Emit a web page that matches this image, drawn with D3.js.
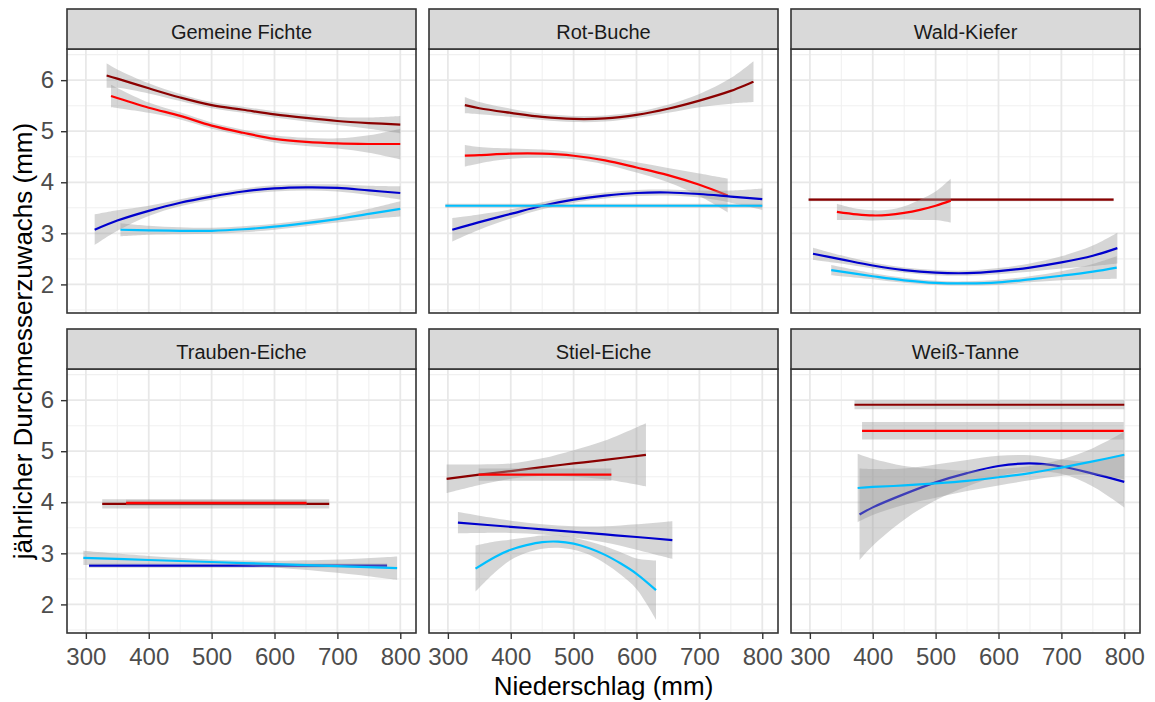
<!DOCTYPE html>
<html>
<head>
<meta charset="utf-8">
<script src="https://cdn.jsdelivr.net/npm/d3@7"></script>
<style>
    body { margin: 0; background: #fff; }
    svg { display: block; font-family: "Liberation Sans", Arial, sans-serif; }
</style>
</head>
<body>
<div id="chart"></div>
<script>
(function () {
    "use strict";

    const species = ["Gemeine Fichte", "Rot-Buche", "Wald-Kiefer", "Trauben-Eiche", "Stiel-Eiche", "Weiß-Tanne"];
    const groupColors = ["#8b0000", "#ff0000", "#0000cd", "#00bfff"];
    const xTicks = [300, 400, 500, 600, 700, 800];
    const xMinor = [350, 450, 550, 650, 750];
    const yTicks = [2, 3, 4, 5, 6];
    const yMinor = [1.5, 2.5, 3.5, 4.5, 5.5, 6.5];

    // rows: [Niederschlag, fit, lower, upper]
    const fichteDarkred = [[333, 6.09, 5.85, 6.33], [350, 6.03, 5.85, 6.21], [400, 5.84, 5.74, 5.94], [450, 5.66, 5.59, 5.73], [500, 5.51, 5.45, 5.57], [550, 5.42, 5.36, 5.48], [600, 5.33, 5.27, 5.39], [650, 5.26, 5.19, 5.33], [700, 5.2, 5.12, 5.28], [750, 5.16, 5.05, 5.27], [800, 5.13, 4.96, 5.3]];
    const fichteRed = [[340, 5.69, 5.47, 5.91], [400, 5.46, 5.36, 5.56], [450, 5.3, 5.23, 5.37], [500, 5.11, 5.05, 5.17], [550, 4.97, 4.91, 5.03], [600, 4.85, 4.78, 4.92], [650, 4.79, 4.71, 4.87], [700, 4.76, 4.66, 4.86], [750, 4.75, 4.58, 4.92], [800, 4.75, 4.45, 5.05]];
    const fichteBlue = [[314, 3.07, 2.77, 3.37], [350, 3.25, 3.05, 3.45], [400, 3.44, 3.34, 3.54], [450, 3.6, 3.53, 3.67], [500, 3.72, 3.66, 3.78], [550, 3.82, 3.76, 3.88], [600, 3.88, 3.82, 3.94], [650, 3.9, 3.84, 3.96], [700, 3.89, 3.82, 3.96], [750, 3.84, 3.75, 3.93], [800, 3.79, 3.66, 3.92]];
    const fichteLightblue = [[355, 3.07, 2.94, 3.2], [400, 3.06, 2.97, 3.15], [450, 3.05, 2.98, 3.12], [500, 3.05, 2.99, 3.11], [550, 3.08, 3.02, 3.14], [600, 3.13, 3.07, 3.19], [650, 3.2, 3.14, 3.26], [700, 3.28, 3.21, 3.35], [750, 3.38, 3.28, 3.48], [800, 3.48, 3.33, 3.63]];

    const bucheDarkred = [[327, 5.51, 5.35, 5.67], [350, 5.45, 5.33, 5.57], [400, 5.36, 5.28, 5.44], [450, 5.28, 5.22, 5.34], [500, 5.24, 5.18, 5.3], [550, 5.25, 5.19, 5.31], [600, 5.32, 5.26, 5.38], [650, 5.44, 5.36, 5.52], [700, 5.6, 5.47, 5.73], [750, 5.79, 5.54, 6.04], [786, 5.97, 5.57, 6.37]];
    const bucheRed = [[327, 4.52, 4.31, 4.73], [350, 4.53, 4.37, 4.69], [400, 4.56, 4.46, 4.66], [450, 4.56, 4.48, 4.64], [500, 4.52, 4.45, 4.59], [550, 4.43, 4.35, 4.51], [600, 4.29, 4.19, 4.39], [650, 4.14, 4.0, 4.28], [700, 3.95, 3.73, 4.17], [745, 3.74, 3.41, 4.07]];
    const bucheBlue = [[307, 3.07, 2.84, 3.3], [350, 3.22, 3.07, 3.37], [400, 3.38, 3.29, 3.47], [450, 3.54, 3.47, 3.61], [500, 3.66, 3.6, 3.72], [550, 3.74, 3.68, 3.8], [600, 3.79, 3.73, 3.85], [650, 3.8, 3.74, 3.86], [700, 3.77, 3.7, 3.84], [750, 3.72, 3.6, 3.84], [800, 3.67, 3.46, 3.88]];
    const bucheLightblue = [[296, 3.54, 3.5, 3.58], [800, 3.54, 3.5, 3.58]];

    const kieferDarkred = [[298, 3.66, 3.63, 3.69], [783, 3.66, 3.63, 3.69]];
    const kieferRed = [[343, 3.42, 3.26, 3.58], [375, 3.37, 3.26, 3.48], [400, 3.35, 3.25, 3.45], [425, 3.36, 3.26, 3.46], [450, 3.4, 3.27, 3.53], [475, 3.46, 3.26, 3.66], [500, 3.54, 3.26, 3.82], [524, 3.64, 3.21, 4.07]];
    const kieferBlue = [[305, 2.6, 2.48, 2.72], [350, 2.49, 2.41, 2.57], [400, 2.37, 2.31, 2.43], [450, 2.28, 2.23, 2.33], [500, 2.23, 2.18, 2.28], [550, 2.22, 2.17, 2.27], [600, 2.26, 2.2, 2.32], [650, 2.33, 2.25, 2.41], [700, 2.43, 2.31, 2.55], [750, 2.56, 2.36, 2.76], [789, 2.71, 2.41, 3.01]];
    const kieferLightblue = [[334, 2.28, 2.18, 2.38], [400, 2.16, 2.1, 2.22], [450, 2.08, 2.03, 2.13], [500, 2.03, 1.99, 2.07], [550, 2.02, 1.98, 2.06], [600, 2.04, 1.99, 2.09], [650, 2.1, 2.04, 2.16], [700, 2.17, 2.08, 2.26], [750, 2.25, 2.1, 2.4], [788, 2.33, 2.11, 2.55]];

    const traubenDarkred = [[326, 3.97, 3.88, 4.06], [687, 3.97, 3.88, 4.06]];
    const traubenRed = [[364, 3.99, 3.93, 4.05], [651, 3.99, 3.93, 4.05]];
    const traubenBlue = [[305, 2.76, 2.72, 2.8], [779, 2.76, 2.72, 2.8]];
    const traubenLightblue = [[296, 2.91, 2.77, 3.05], [400, 2.87, 2.79, 2.95], [550, 2.81, 2.76, 2.86], [700, 2.75, 2.62, 2.88], [795, 2.71, 2.48, 2.94]];

    const stielDarkred = [[298, 4.46, 4.18, 4.74], [350, 4.54, 4.34, 4.74], [400, 4.61, 4.46, 4.76], [450, 4.69, 4.52, 4.86], [500, 4.76, 4.5, 5.02], [550, 4.83, 4.45, 5.21], [615, 4.93, 4.31, 5.55]];
    const stielRed = [[349, 4.54, 4.42, 4.66], [560, 4.54, 4.42, 4.66]];
    const stielBlue = [[316, 3.6, 3.39, 3.81], [400, 3.52, 3.4, 3.64], [450, 3.47, 3.37, 3.57], [500, 3.42, 3.31, 3.53], [550, 3.37, 3.21, 3.53], [600, 3.32, 3.07, 3.57], [657, 3.26, 2.89, 3.63]];
    const stielLightblue = [[344, 2.7, 2.25, 3.15], [375, 2.93, 2.63, 3.23], [400, 3.07, 2.87, 3.27], [425, 3.16, 3.01, 3.31], [450, 3.22, 3.09, 3.35], [475, 3.23, 3.11, 3.35], [500, 3.19, 3.07, 3.31], [525, 3.1, 2.97, 3.23], [550, 2.97, 2.8, 3.14], [575, 2.8, 2.58, 3.02], [600, 2.6, 2.3, 2.9], [631, 2.28, 1.7, 2.86]];

    const tanneDarkred = [[371, 5.91, 5.82, 6.0], [800, 5.91, 5.82, 6.0]];
    const tanneRed = [[383, 5.4, 5.23, 5.57], [799, 5.4, 5.23, 5.57]];
    const tanneBlue = [[379, 3.76, 2.87, 4.66], [400, 3.9, 3.15, 4.65], [450, 4.16, 3.66, 4.66], [500, 4.39, 4.04, 4.74], [550, 4.57, 4.31, 4.83], [600, 4.71, 4.51, 4.91], [650, 4.76, 4.6, 4.92], [700, 4.7, 4.56, 4.84], [750, 4.56, 4.31, 4.81], [800, 4.4, 3.9, 4.95]];
    const tanneLightblue = [[376, 4.28, 3.61, 4.95], [400, 4.3, 3.75, 4.85], [450, 4.33, 3.95, 4.71], [500, 4.37, 4.09, 4.65], [550, 4.42, 4.22, 4.62], [600, 4.49, 4.33, 4.65], [650, 4.57, 4.43, 4.71], [700, 4.68, 4.52, 4.84], [750, 4.8, 4.54, 5.06], [800, 4.93, 4.45, 5.38]];

    const panelSeries = [
        [fichteDarkred, fichteRed, fichteBlue, fichteLightblue],
        [bucheDarkred, bucheRed, bucheBlue, bucheLightblue],
        [kieferDarkred, kieferRed, kieferBlue, kieferLightblue],
        [traubenDarkred, traubenRed, traubenBlue, traubenLightblue],
        [stielDarkred, stielRed, stielBlue, stielLightblue],
        [tanneDarkred, tanneRed, tanneBlue, tanneLightblue]
    ];

    const width = 1155;
    const height = 702;
    const panelLeft = 67;
    const panelWidth = 349;
    const panelGap = 13;
    const stripTops = [9, 329];
    const stripHeight = 40;
    const panelHeight = 264;

    const xScale = d3.scaleLinear().domain([270, 825]).range([0, panelWidth]);
    const yScale = d3.scaleLinear().domain([1.44, 6.61]).range([panelHeight, 0]);

    const line = d3.line()
        .x(d => xScale(d[0]))
        .y(d => yScale(d[1]))
        .curve(d3.curveCatmullRom);

    const band = d3.area()
        .x(d => xScale(d[0]))
        .y0(d => yScale(d[2]))
        .y1(d => yScale(d[3]))
        .curve(d3.curveCatmullRom);

    const svg = d3.select("#chart").append("svg")
        .attr("width", width)
        .attr("height", height);

    svg.append("rect")
        .attr("width", width)
        .attr("height", height)
        .attr("fill", "#fff");

    species.forEach((name, i) => {
        const col = i % 3;
        const row = Math.floor(i / 3);
        const left = panelLeft + col * (panelWidth + panelGap);
        const top = stripTops[row] + stripHeight;

        const g = svg.append("g")
            .attr("transform", `translate(${left},${top})`);

        // minor grid
        g.selectAll(".gx-minor").data(xMinor).join("line")
            .attr("x1", d => xScale(d)).attr("x2", d => xScale(d))
            .attr("y1", 0).attr("y2", panelHeight)
            .attr("stroke", "#f0f0f0").attr("stroke-width", 1.1);
        g.selectAll(".gy-minor").data(yMinor).join("line")
            .attr("y1", d => yScale(d)).attr("y2", d => yScale(d))
            .attr("x1", 0).attr("x2", panelWidth)
            .attr("stroke", "#f0f0f0").attr("stroke-width", 1.1);

        // major grid
        g.selectAll(".gx-major").data(xTicks).join("line")
            .attr("x1", d => xScale(d)).attr("x2", d => xScale(d))
            .attr("y1", 0).attr("y2", panelHeight)
            .attr("stroke", "#e8e8e8").attr("stroke-width", 1.8);
        g.selectAll(".gy-major").data(yTicks).join("line")
            .attr("y1", d => yScale(d)).attr("y2", d => yScale(d))
            .attr("x1", 0).attr("x2", panelWidth)
            .attr("stroke", "#e8e8e8").attr("stroke-width", 1.8);

        // smoothers: ribbon then line per group
        panelSeries[i].forEach((rows, k) => {
            g.append("path")
                .attr("d", band(rows))
                .attr("fill", "#999999")
                .attr("fill-opacity", 0.4);
            g.append("path")
                .attr("d", line(rows))
                .attr("fill", "none")
                .attr("stroke", groupColors[k])
                .attr("stroke-width", 2.2);
        });

        g.append("rect")
            .attr("width", panelWidth)
            .attr("height", panelHeight)
            .attr("fill", "none")
            .attr("stroke", "#333333")
            .attr("stroke-width", 1.6);

        // strip
        g.append("rect")
            .attr("y", -stripHeight)
            .attr("width", panelWidth)
            .attr("height", stripHeight)
            .attr("fill", "#d9d9d9")
            .attr("stroke", "#333333")
            .attr("stroke-width", 1.6);
        g.append("text")
            .attr("x", panelWidth / 2)
            .attr("y", -stripHeight + 30)
            .attr("text-anchor", "middle")
            .attr("font-size", 20)
            .attr("fill", "#1a1a1a")
            .text(name);

        if (col === 0) {
            const yAxis = g.append("g")
                .call(d3.axisLeft(yScale).tickValues(yTicks).tickSize(6).tickPadding(7).tickFormat(d3.format("d")));
            yAxis.select(".domain").remove();
            yAxis.selectAll("line").attr("stroke", "#333333").attr("stroke-width", 1.4);
            yAxis.selectAll("text").attr("font-size", 24).attr("fill", "#4d4d4d")
                .attr("font-family", "'Liberation Sans', Arial, sans-serif");
        }
        if (row === 1) {
            const xAxis = g.append("g")
                .attr("transform", `translate(0,${panelHeight})`)
                .call(d3.axisBottom(xScale).tickValues(xTicks).tickSize(6).tickPadding(9).tickFormat(d3.format("d")));
            xAxis.select(".domain").remove();
            xAxis.selectAll("line").attr("stroke", "#333333").attr("stroke-width", 1.4);
            xAxis.selectAll("text").attr("font-size", 24).attr("fill", "#4d4d4d")
                .attr("font-family", "'Liberation Sans', Arial, sans-serif");
        }
    });

    svg.append("text")
        .attr("x", panelLeft + (3 * panelWidth + 2 * panelGap) / 2)
        .attr("y", 695)
        .attr("text-anchor", "middle")
        .attr("font-size", 26)
        .attr("fill", "#000")
        .text("Niederschlag (mm)");

    svg.append("text")
        .attr("transform", "translate(32,341) rotate(-90)")
        .attr("text-anchor", "middle")
        .attr("font-size", 26)
        .attr("fill", "#000")
        .text("jährlicher Durchmesserzuwachs (mm)");
}());
</script>
</body>
</html>
